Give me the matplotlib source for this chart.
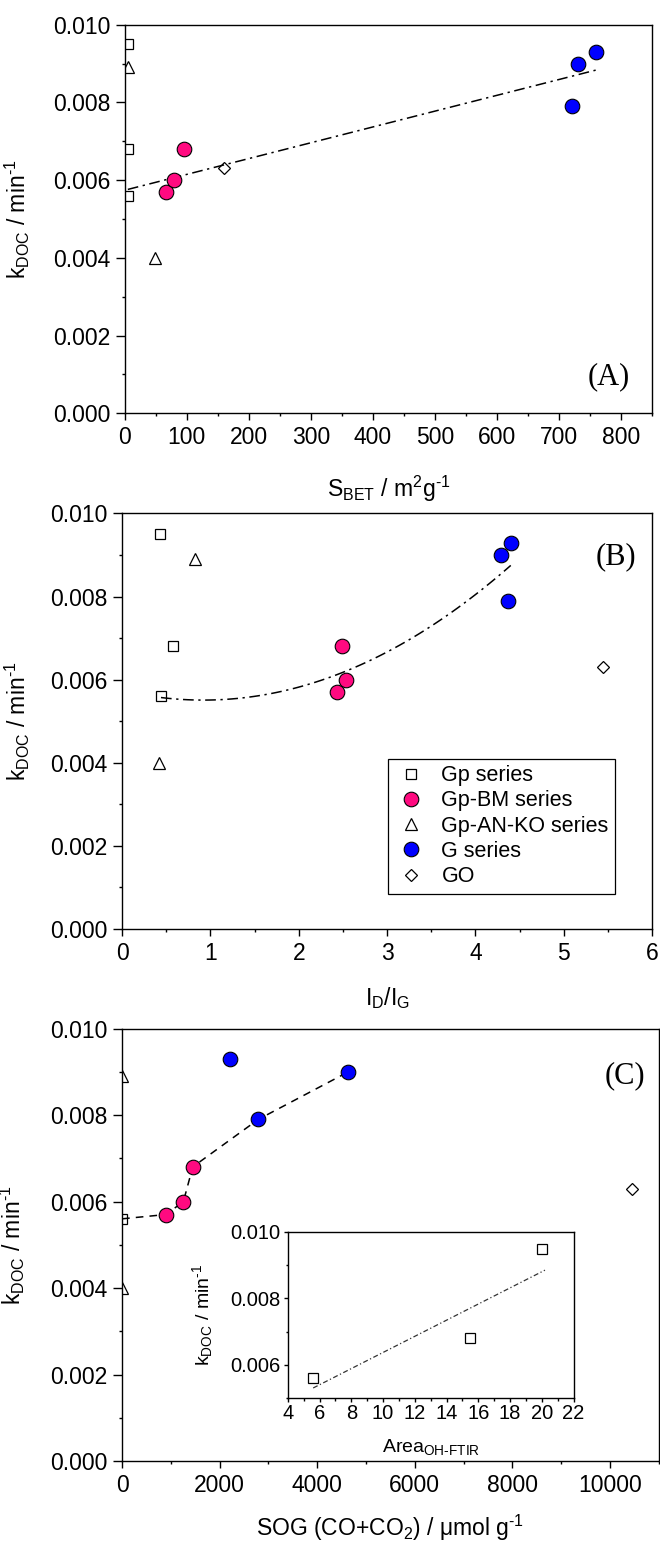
import numpy as np
import matplotlib
matplotlib.use('Agg')
import matplotlib.pyplot as plt
from matplotlib.ticker import MultipleLocator, FormatStrFormatter

plt.rcParams['font.family'] = ['Liberation Sans', 'DejaVu Sans']
plt.rcParams['mathtext.fontset'] = 'custom'
plt.rcParams['mathtext.rm'] = 'Liberation Sans'
plt.rcParams['mathtext.it'] = 'Liberation Sans:italic'
plt.rcParams['mathtext.bf'] = 'Liberation Sans:bold'

# rate constants k_DOC (min^-1) for each sample group
gp_k = [0.0095, 0.0068, 0.0056]
bm_k = [0.0057, 0.0060, 0.0068]
anko_k = [0.0089, 0.0040]
g_k = [0.0079, 0.0090, 0.0093]
go_k = [0.0063]

# (A) BET surface area, m2/g
gp_sbet = [6, 6, 6]
bm_sbet = [66, 79, 95]
anko_sbet = [6, 48]
g_sbet = [721, 731, 760]
go_sbet = [160]
fit_a = [4.07e-6, 0.00574]          # linear fit, slope / intercept
fit_a_range = [5, 760]

# (B) Raman ID/IG
gp_idig = [0.43, 0.58, 0.44]
bm_idig = [2.43, 2.53, 2.49]
anko_idig = [0.83, 0.42]
g_idig = [4.37, 4.29, 4.40]
go_idig = [5.44]
fit_b = [2.675e-4, -4.92e-4, 5.736e-3]   # quadratic fit
fit_b_range = [0.44, 4.40]

# (C) surface oxygen groups from TPD, umol/g
gp_sog = [0]
gp_sog_k = [0.0056]
bm_sog = [902, 1257, 1448]
anko_sog = [0, 0]
g_sog = [2794, 4640, 2207]
go_sog = [10450]
trend_c_x = [0, 902, 1257, 1448, 2794, 4640]
trend_c_y = [0.0056, 0.0057, 0.0060, 0.0068, 0.0079, 0.0090]

# inset: OH band area from FTIR (Gp series)
ftir_area = [5.6, 15.5, 20.0]
ftir_k = [0.0056, 0.0068, 0.0095]
fit_inset = [2.43e-4, 0.00394]
fit_inset_range = [5.6, 20.2]

PINK = '#ff0a80'
BLUE = '#0000ff'

styles = {
    'gp': dict(marker='s', ms=7, mfc='none', mec='black', mew=0.9, ls='none'),
    'bm': dict(marker='o', ms=10.5, mfc=PINK, mec='black', mew=0.8, ls='none'),
    'anko': dict(marker='^', ms=8, mfc='none', mec='black', mew=0.9, ls='none'),
    'g': dict(marker='o', ms=10.5, mfc=BLUE, mec='black', mew=0.8, ls='none'),
    'go': dict(marker='D', ms=6.5, mfc='none', mec='black', mew=0.9, ls='none'),
}

TICK_FS = 16.5
LABEL_FS = 16.5
DASHDOT = (0, (7, 3, 1.5, 3))


def style_axes(ax, fs=TICK_FS, xmajor=5, ymajor=6.5, minor=2.5, xpad=4, ypad=4):
    for sp in ax.spines.values():
        sp.set_linewidth(1.0)
    ax.tick_params(which='both', direction='out', top=False, right=False,
                   width=1.0, labelsize=fs)
    ax.tick_params(axis='x', which='major', length=xmajor, pad=xpad)
    ax.tick_params(axis='y', which='major', length=ymajor, pad=ypad)
    ax.tick_params(which='minor', length=minor)


fig = plt.figure(figsize=(6.6, 15.42), dpi=100)

ylab = r'$\mathrm{k_{DOC}}$ / min$^{\text{-}\mathrm{1}}$'

# ---- (A) k vs S_BET ----
axA = fig.add_axes([0.189, 0.732, 0.799, 0.252])
axA.plot(gp_sbet, gp_k, **styles['gp'])
axA.plot(anko_sbet, anko_k, **styles['anko'])
axA.plot(go_sbet, go_k, **styles['go'])
xa = np.linspace(*fit_a_range, 50)
axA.plot(xa, np.polyval(fit_a, xa), color='black', lw=1.1, ls=DASHDOT)
axA.plot(bm_sbet, bm_k, **styles['bm'])
axA.plot(g_sbet, g_k, **styles['g'])
axA.set_xlim(0, 850)
axA.set_ylim(0, 0.010)
axA.xaxis.set_major_locator(MultipleLocator(100))
axA.xaxis.set_minor_locator(MultipleLocator(50))
axA.yaxis.set_major_locator(MultipleLocator(0.002))
axA.yaxis.set_minor_locator(MultipleLocator(0.001))
axA.yaxis.set_major_formatter(FormatStrFormatter('%.3f'))
style_axes(axA)
axA.set_xlabel(r'S$_{\mathrm{BET}}$ / m$^{\mathrm{2}}$g$^{\text{-}\mathrm{1}}$', fontsize=LABEL_FS)
axA.set_ylabel(ylab, fontsize=LABEL_FS)
axA.xaxis.set_label_coords(0.5, -0.155)
axA.yaxis.set_label_coords(-0.176, 0.5)
axA.text(0.958, 0.075, '(A)', transform=axA.transAxes, ha='right', va='baseline',
         fontsize=22, family='Liberation Serif')

# ---- (B) k vs ID/IG ----
axB = fig.add_axes([0.185, 0.3975, 0.803, 0.2695])
lg_gp, = axB.plot(gp_idig, gp_k, label='Gp series', **styles['gp'])
lg_an, = axB.plot(anko_idig, anko_k, label='Gp-AN-KO series', **styles['anko'])
lg_go, = axB.plot(go_idig, go_k, label='GO', **styles['go'])
xb = np.linspace(*fit_b_range, 80)
axB.plot(xb, np.polyval(fit_b, xb), color='black', lw=1.1, ls=DASHDOT)
lg_bm, = axB.plot(bm_idig, bm_k, label='Gp-BM series', **styles['bm'])
lg_g, = axB.plot(g_idig, g_k, label='G series', **styles['g'])
axB.set_xlim(0, 6)
axB.set_ylim(0, 0.010)
axB.xaxis.set_major_locator(MultipleLocator(1))
axB.xaxis.set_minor_locator(MultipleLocator(0.5))
axB.yaxis.set_major_locator(MultipleLocator(0.002))
axB.yaxis.set_minor_locator(MultipleLocator(0.001))
axB.yaxis.set_major_formatter(FormatStrFormatter('%.3f'))
style_axes(axB)
axB.set_xlabel(r'I$_{\mathrm{D}}$/I$_{\mathrm{G}}$', fontsize=LABEL_FS)
axB.set_ylabel(ylab, fontsize=LABEL_FS)
axB.xaxis.set_label_coords(0.5, -0.135)
axB.yaxis.set_label_coords(-0.17, 0.5)
axB.text(0.97, 0.897, '(B)', transform=axB.transAxes, ha='right', va='center',
         fontsize=22, family='Liberation Serif')
leg = axB.legend(handles=[lg_gp, lg_bm, lg_an, lg_g, lg_go], loc='lower left',
                 bbox_to_anchor=(0.501, 0.085), fontsize=15.5, frameon=True,
                 fancybox=False, edgecolor='black', framealpha=1,
                 borderpad=0.3, labelspacing=0.2, handletextpad=0.6,
                 handlelength=1.6, borderaxespad=0)
leg.get_frame().set_linewidth(0.9)

# ---- (C) k vs surface oxygen groups ----
axC = fig.add_axes([0.185, 0.0525, 0.813, 0.2805])
axC.plot(gp_sog, gp_sog_k, **styles['gp'])
axC.plot(anko_sog, anko_k, **styles['anko'])
axC.plot(go_sog, go_k, **styles['go'])
axC.plot(trend_c_x, trend_c_y, color='black', lw=1.1, ls=(0, (5, 4)))
axC.plot(bm_sog, bm_k, **styles['bm'])
axC.plot(g_sog, g_k, **styles['g'])
axC.set_xlim(0, 11000)
axC.set_ylim(0, 0.010)
axC.xaxis.set_major_locator(MultipleLocator(2000))
axC.xaxis.set_minor_locator(MultipleLocator(1000))
axC.yaxis.set_major_locator(MultipleLocator(0.002))
axC.yaxis.set_minor_locator(MultipleLocator(0.001))
axC.yaxis.set_major_formatter(FormatStrFormatter('%.3f'))
style_axes(axC)
axC.set_xlabel(r'SOG (CO+CO$_{\mathrm{2}}$) / $\mathrm{\mu}$mol g$^{\text{-}\mathrm{1}}$',
               fontsize=LABEL_FS)
axC.set_ylabel(ylab, fontsize=LABEL_FS)
axC.xaxis.set_label_coords(0.5, -0.12)
axC.yaxis.set_label_coords(-0.178, 0.5)
axC.text(0.975, 0.89, '(C)', transform=axC.transAxes, ha='right', va='center',
         fontsize=22, family='Liberation Serif')

# inset: k vs OH area
axI = fig.add_axes([0.436, 0.0934, 0.433, 0.1077])
axI.plot(ftir_area, ftir_k, **styles['gp'])
xi = np.linspace(*fit_inset_range, 20)
axI.plot(xi, np.polyval(fit_inset, xi), color='#333333', lw=0.9, ls=(0, (4, 2, 1, 2)))
axI.set_xlim(4, 22)
axI.set_ylim(0.005, 0.010)
axI.xaxis.set_major_locator(MultipleLocator(2))
axI.xaxis.set_minor_locator(MultipleLocator(1))
axI.yaxis.set_major_locator(MultipleLocator(0.002))
axI.yaxis.set_minor_locator(MultipleLocator(0.001))
axI.set_yticks([0.006, 0.008, 0.010])
axI.yaxis.set_major_formatter(FormatStrFormatter('%.3f'))
style_axes(axI, fs=14.5, xmajor=3, ymajor=3, minor=1.8, xpad=1.5, ypad=2)
axI.set_xlabel(r'Area$_{\mathrm{OH\text{-}FTIR}}$', fontsize=14)
axI.set_ylabel(ylab, fontsize=14)
axI.xaxis.set_label_coords(0.5, -0.235)
axI.yaxis.set_label_coords(-0.255, 0.5)

fig.savefig('out.png', dpi=100)
